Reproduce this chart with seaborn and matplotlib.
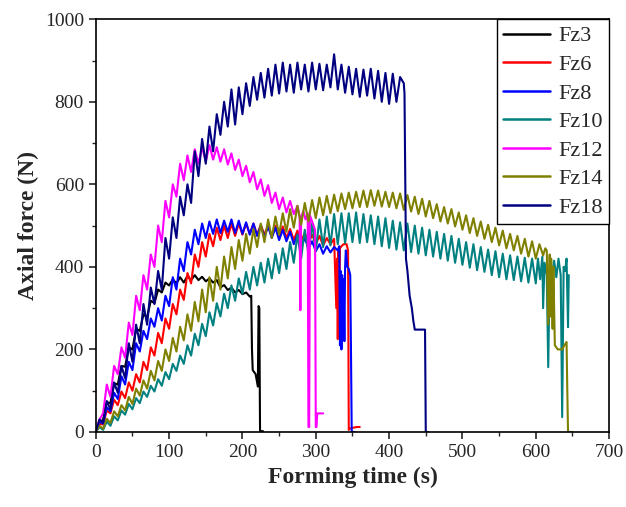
import numpy as np
import pandas as pd
import seaborn as sns
import matplotlib.pyplot as plt
from matplotlib.ticker import MultipleLocator

sns.set_style("ticks")
plt.rcParams['font.family'] = ['Liberation Serif', 'DejaVu Serif']
plt.rcParams['mathtext.fontset'] = 'stix'

# ---- data (time in s, axial force in N) ----
# Fz3
fz3_t = np.concatenate([np.arange(0, 211, 5), [212, 213, 214, 218, 221, 222, 223, 224, 228]])
fz3_f = [0, 22, 30, 72, 70, 118, 115, 160, 158, 205, 200, 250, 245, 285, 278, 318, 312, 345, 338, 362,
         355, 370, 360, 375, 362, 378, 368, 380, 368, 376, 365, 372, 362, 368, 350, 356, 344, 350, 338,
         344, 334, 338, 328,
         330, 200, 150, 140, 110, 305, 300, 2, 2]

# Fz6
fz6_t = np.concatenate([np.arange(0, 326, 5),
                        [328, 329, 330, 331, 332, 333, 335, 338, 342, 344, 345, 346, 350, 356, 360]])
fz6_f = [0, 20, 18, 52, 45, 78, 65, 98, 82, 120, 100, 140, 120, 170, 150, 205, 185, 240, 215, 275,
         250, 310, 285, 345, 320, 385, 360, 430, 400, 460, 425, 480, 450, 495, 465, 500, 470, 505, 475,
         505, 478, 505, 480, 505, 478, 502, 478, 500, 475, 500, 472, 498, 470, 492, 465, 488, 462, 482,
         458, 478, 455, 475, 452, 470, 455, 468,
         300, 420, 225, 440, 230, 445, 450, 455, 455, 440, 5, 8, 10, 12, 12]

# Fz8
fz8_t = np.concatenate([np.arange(0, 331, 5),
                        [332, 333, 334, 335, 336, 337, 338, 339, 340, 341, 342, 343, 345, 347, 348, 349, 350, 353]])
fz8_f = [0, 25, 20, 60, 50, 95, 80, 135, 115, 170, 150, 215, 195, 245, 225, 275, 255, 300, 270, 330,
         305, 375, 345, 420, 390, 460, 430, 490, 455, 505, 470, 510, 480, 515, 482, 512, 485, 515, 482,
         512, 480, 508, 478, 505, 475, 500, 472, 498, 470, 495, 465, 490, 462, 485, 455, 478, 450, 470,
         445, 462, 438, 455, 432, 450, 435, 448, 440,
         450, 210, 390, 200, 380, 230, 370, 220, 400, 440, 420, 400, 395, 380, 200, 0, 0, 0]

# Fz10
fz10_t = np.concatenate([np.arange(0, 601, 5),
                         [603, 606, 609, 610, 612, 615, 617, 619, 622, 625, 628, 631, 634, 636, 638, 640,
                          642, 644, 645]])
fz10_f = [0, 12, 5, 25, 15, 38, 28, 52, 42, 68, 55, 82, 70, 98, 85, 112, 98, 128, 112, 145,
          128, 165, 148, 185, 165, 210, 185, 238, 210, 262, 232, 290, 258, 312, 280, 335, 300, 355, 318,
          372, 335, 388, 345, 400, 355, 410, 362, 420, 372, 432, 385, 445, 395, 460, 410, 478, 420, 490,
          432, 505, 440, 515, 448, 522, 452, 528, 455, 530, 458, 530, 460, 532, 458, 528, 460, 525, 455,
          522, 450, 518, 446, 512, 442, 508, 440, 505, 436, 500, 432, 495, 428, 490, 425, 485, 420, 480,
          415, 475, 410, 468, 405, 460, 398, 455, 392, 448, 388, 442, 380, 438, 375, 432, 370, 428, 368,
          425, 365, 422, 362, 420, 360,
          420, 370, 425, 300, 410, 380, 157, 400, 370, 415, 375, 420, 380, 36, 400, 390, 420, 254, 380]

# Fz12
fz12_t = np.concatenate([np.arange(0, 276, 5),
                         [276, 278, 279, 280, 283, 286, 289, 290, 291, 292, 295, 297, 299, 300, 301, 302, 310]])
fz12_f = [0, 30, 45, 115, 85, 160, 140, 205, 180, 265, 235, 330, 295, 380, 345, 430, 400, 500, 460, 560,
          520, 600, 570, 650, 610, 670, 630, 685, 650, 690, 655, 695, 660, 690, 655, 685, 648, 675, 635,
          660, 620, 645, 605, 630, 588, 612, 572, 598, 555, 580, 540, 568, 532, 560, 528, 548,
          540, 520, 295, 520, 535, 515, 530, 12, 12, 525, 510, 500, 490, 12, 12, 45, 45]

# Fz14
fz14_t = np.concatenate([np.arange(0, 611, 5),
                         [613, 615, 617, 619, 620, 621, 623, 624, 626, 628, 630, 633, 636, 639, 642, 643,
                          644, 646, 650]])
fz14_f = [0, 15, 8, 32, 22, 50, 38, 65, 52, 85, 68, 105, 88, 125, 105, 148, 125, 172, 148, 200,
          172, 228, 195, 255, 222, 285, 245, 315, 268, 345, 290, 375, 318, 400, 345, 425, 372, 448, 395,
          465, 415, 480, 432, 492, 448, 505, 460, 515, 470, 522, 478, 530, 485, 540, 495, 548, 502, 555,
          510, 562, 518, 568, 525, 572, 530, 575, 535, 578, 540, 580, 542, 582, 545, 585, 545, 586, 548,
          585, 546, 582, 545, 580, 542, 578, 538, 574, 534, 570, 528, 565, 522, 560, 518, 552, 510, 545,
          505, 540, 498, 532, 490, 525, 482, 518, 475, 510, 468, 502, 460, 495, 452, 488, 445, 480, 440,
          475, 432, 468, 425, 462, 420, 455, 428,
          445, 440, 260, 430, 280, 420, 250, 400, 210, 205, 200, 200, 200, 210, 218, 100, 0, 0, 0]

# Fz18
fz18_t = np.concatenate([np.arange(0, 421, 5),
                         [421, 423, 425, 428, 431, 433, 435, 440, 449, 450, 453]])
fz18_f = [0, 30, 22, 75, 55, 120, 95, 160, 130, 215, 170, 260, 215, 310, 260, 350, 310, 390, 345, 470,
          420, 520, 470, 570, 525, 600, 555, 680, 620, 710, 650, 740, 680, 770, 720, 800, 740, 830, 745,
          835, 770, 845, 790, 860, 805, 870, 810, 880, 815, 890, 820, 895, 825, 890, 822, 895, 830, 890,
          825, 895, 830, 892, 828, 890, 835, 915, 830, 890, 822, 885, 818, 880, 812, 878, 815, 880, 808,
          875, 800, 870, 795, 868, 800, 860, 845,
          820, 420, 390, 330, 300, 270, 248, 248, 248, 0, 0]

names = ['Fz3', 'Fz6', 'Fz8', 'Fz10', 'Fz12', 'Fz14', 'Fz18']
times = [fz3_t, fz6_t, fz8_t, fz10_t, fz12_t, fz14_t, fz18_t]
forces = [fz3_f, fz6_f, fz8_f, fz10_f, fz12_f, fz14_f, fz18_f]
colors = ['#000000', '#FF0000', '#0000FF', '#008080', '#FF00FF', '#808000', '#000080']

frames = []
for n, t, f in zip(names, times, forces):
    frames.append(pd.DataFrame({'time': t, 'force': f, 'series': n}))
df = pd.concat(frames, ignore_index=True)

fig = plt.figure(figsize=(6.26, 5.07), dpi=100)
ax = fig.add_axes([0.153, 0.148, 0.820, 0.814])

sns.lineplot(data=df, x='time', y='force', hue='series', hue_order=names,
             palette=colors, estimator=None, sort=False, linewidth=1.5, ax=ax)

ax.set_xlim(0, 700)
ax.set_ylim(0, 1000)
ax.xaxis.set_major_locator(MultipleLocator(100))
ax.xaxis.set_minor_locator(MultipleLocator(50))
ax.yaxis.set_major_locator(MultipleLocator(200))
ax.yaxis.set_minor_locator(MultipleLocator(100))
ax.tick_params(which='major', direction='out', length=5, width=1.2, labelsize=14, top=False, right=False)
ax.tick_params(which='minor', direction='out', length=3, width=1.0, top=False, right=False)
for s in ax.spines.values():
    s.set_linewidth(1.2)
    s.set_color('black')

ax.set_xlabel('Forming time (s)', fontsize=17, fontweight='bold')
ax.set_ylabel('Axial force (N)', fontsize=17, fontweight='bold')

leg = ax.legend(loc='upper right', fontsize=16, frameon=True, fancybox=False,
                borderaxespad=0.0, handlelength=2.1, labelspacing=0.36,
                handletextpad=0.35, borderpad=0.3)
leg.get_frame().set_edgecolor('black')
leg.get_frame().set_linewidth(1.0)
leg.get_frame().set_alpha(1)
for line in leg.get_lines():
    line.set_linewidth(1.8)

fig.savefig('out.png', dpi=100)
